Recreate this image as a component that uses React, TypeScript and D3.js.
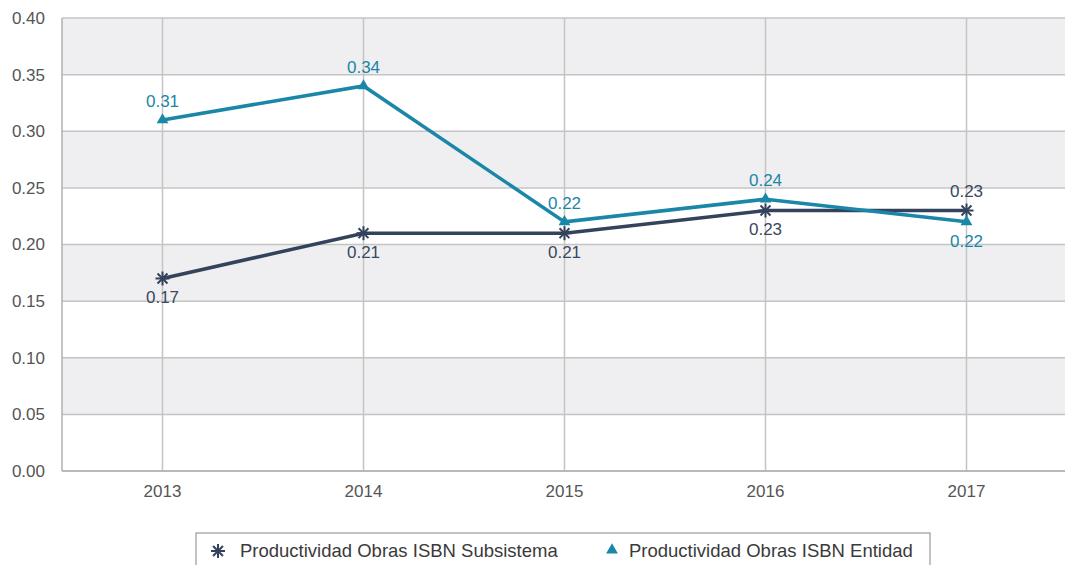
import React from 'react';
import * as d3 from 'd3';

const years = ['2013', '2014', '2015', '2016', '2017'];
const subsistema = [0.17, 0.21, 0.21, 0.23, 0.23];
const entidad = [0.31, 0.34, 0.22, 0.24, 0.22];
const yTicks = [0, 0.05, 0.1, 0.15, 0.2, 0.25, 0.3, 0.35, 0.4];
// label side for each point: -1 above, 1 below
const subSide = [1, 1, 1, 1, -1];
const entSide = [-1, -1, -1, -1, 1];

const W = 1065;
const H = 565;
const margin = { top: 18, left: 62, bottom: 94 };
const navy = '#34435c';
const teal = '#1a86a8';
const font = 'Liberation Sans, Arial, sans-serif';

const App: React.FC = () => {
  const x = d3.scaleBand<string>().domain(years).range([margin.left, margin.left + 201 * years.length]);
  const y = d3.scaleLinear().domain([0, 0.4]).range([H - margin.bottom, margin.top]);
  const cx = (yr: string) => (x(yr) ?? 0) + x.bandwidth() / 2;

  const line = d3.line<number>().x((_, i) => cx(years[i])).y(d => y(d));

  const bands = yTicks.slice(0, -1).map((t, i) => ({ lo: t, hi: yTicks[i + 1], gray: (yTicks.length - 2 - i) % 2 === 0 }));

  const star = (px: number, py: number, key: string) => {
    const r = 7;
    const segs = [0, 45, 90, 135].map(a => {
      const rad = (a * Math.PI) / 180;
      return <line key={a} x1={px - r * Math.cos(rad)} y1={py - r * Math.sin(rad)} x2={px + r * Math.cos(rad)} y2={py + r * Math.sin(rad)} stroke={navy} strokeWidth={2} />;
    });
    return <g key={key}>{segs}</g>;
  };
  const tri = (px: number, py: number, key: string) => (
    <path key={key} d={d3.symbol().type(d3.symbolTriangle).size(60)() ?? ''} transform={`translate(${px},${py})`} fill={teal} />
  );

  return (
    <svg width={W} height={H} style={{ position: 'absolute', left: 0, top: 0, fontFamily: font }}>
      <rect width={W} height={H} fill="#fff" />
      {bands.map(b => (
        <rect key={b.lo} x={margin.left} y={y(b.hi)} width={W - margin.left} height={y(b.lo) - y(b.hi)} fill={b.gray ? '#efeff1' : '#ffffff'} />
      ))}
      {yTicks.map(t => (
        <g key={t}>
          <line x1={margin.left} x2={W} y1={y(t)} y2={y(t)} stroke="#c4c4c4" strokeWidth={1.5} />
          <text x={45} y={y(t)} dy="0.35em" textAnchor="end" fontSize={17} fill="#555">{t.toFixed(2)}</text>
        </g>
      ))}
      {years.map(yr => (
        <g key={yr}>
          <line x1={cx(yr)} x2={cx(yr)} y1={margin.top} y2={y(0)} stroke="#c4c4c4" strokeWidth={1.5} />
          <text x={cx(yr)} y={y(0) + 20} dy="0.35em" textAnchor="middle" fontSize={17} fill="#555">{yr}</text>
        </g>
      ))}
      <line x1={margin.left} x2={margin.left} y1={margin.top} y2={y(0)} stroke="#b0b0b0" strokeWidth={1.5} />
      <line x1={margin.left} x2={W} y1={y(0)} y2={y(0)} stroke="#b0b0b0" strokeWidth={1.5} />

      <path d={line(subsistema) ?? ''} fill="none" stroke={navy} strokeWidth={3.5} />
      <path d={line(entidad) ?? ''} fill="none" stroke={teal} strokeWidth={3.5} />
      {subsistema.map((v, i) => star(cx(years[i]), y(v), 's' + i))}
      {entidad.map((v, i) => tri(cx(years[i]), y(v), 'e' + i))}
      {subsistema.map((v, i) => (
        <text key={'sl' + i} x={cx(years[i])} y={y(v) + subSide[i] * 19} dy="0.35em" textAnchor="middle" fontSize={17} fill="#3a4860">{v.toFixed(2)}</text>
      ))}
      {entidad.map((v, i) => (
        <text key={'el' + i} x={cx(years[i])} y={y(v) + entSide[i] * 19} dy="0.35em" textAnchor="middle" fontSize={17} fill={teal}>{v.toFixed(2)}</text>
      ))}

      <rect x={196} y={533} width={734} height={40} fill="#fff" stroke="#999" strokeWidth={1.2} />
      {star(218, 551, 'ls')}
      <text x={240} y={551} dy="0.35em" fontSize={18.5} fill="#3a3a3a">Productividad Obras ISBN Subsistema</text>
      {tri(612, 550, 'lt')}
      <text x={629} y={551} dy="0.35em" fontSize={18.5} fill="#3a3a3a">Productividad Obras ISBN Entidad</text>
    </svg>
  );
};

export default App;
